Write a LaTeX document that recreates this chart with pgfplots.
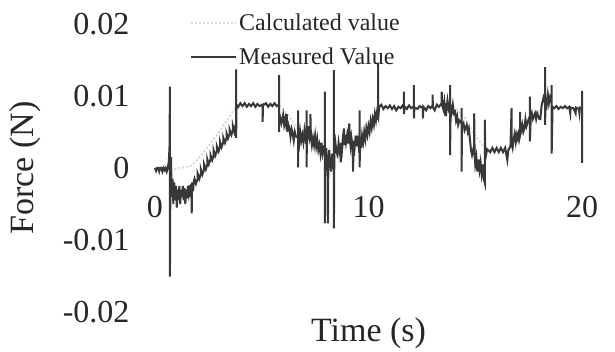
\documentclass[border=0pt]{standalone}
\usepackage{fontspec}
\setmainfont{Liberation Serif}
\usepackage{pgfplots}
\pgfplotsset{compat=1.18}
\begin{document}
\begin{tikzpicture}
\begin{axis}[
  scale only axis,
  width=427pt, height=288pt,
  xmin=0, xmax=20, ymin=-0.02, ymax=0.02,
  axis x line=middle, axis y line=left,
  axis line style={draw=none},
  hide obscured x ticks=false, hide obscured y ticks=false,
  major tick length=0pt,
  scaled y ticks=false, scaled x ticks=false,
  xtick={0,10,20}, ytick={-0.02,-0.01,0,0.01,0.02},
  yticklabels={-0.02,-0.01,0,0.01,0.02},
  /pgf/number format/assume math mode=true,
  tick label style={font=\fontsize{32}{38}\selectfont, text=black!85},
  x tick label style={anchor=center, yshift=-39pt},
  y tick label style={anchor=east, xshift=-22pt},
  xlabel={Time (s)}, ylabel={Force (N)},
  label style={font=\fontsize{34}{40}\selectfont, text=black!85},
  xlabel style={at={(axis description cs:0.5,-0.073)}, anchor=center},
  ylabel style={at={(axis description cs:-0.304,0.5)}, anchor=center, rotate=0},
  legend style={draw=none, fill=none, at={(axis description cs:0.082,1.042)}, anchor=north west,
    font=\fontsize{24}{28}\selectfont, text=black!85, row sep=12pt, inner sep=0pt},
  legend cell align=left,
  legend image code/.code={\draw[#1] (0pt,0pt) -- (45pt,0pt);},
  clip=false,
]
\addplot[gray!30, line width=2pt, dotted] coordinates {
(0,0)(0.6,0)(0.8,-0.0003)(1.2,0)(1.7,0.0003)(2.0,0.0012)(2.5,0.003)(3.0,0.005)(3.5,0.0072)(3.8,0.0085)(4.0,0.0088)(5.8,0.0088)(6.2,0.0075)(6.8,0.005)(7.5,0.003)(8.2,0.0012)(8.5,0.0015)(9.0,0.0035)(9.6,0.005)(10.2,0.007)(10.6,0.0085)(14.0,0.0085)(14.5,0.007)(15.0,0.0045)(15.5,0.0026)(16.5,0.0026)(17.0,0.005)(17.6,0.007)(18.3,0.0085)(20,0.0083)
};
\addlegendentry{Calculated value}
\addplot[black!78, line width=2pt, line join=miter] coordinates {
(0,0)(0.05,-0.0004)(0.1,0)(0.15,0)(0.2,-0.0005)(0.25,0)(0.3,0)(0.35,-0.0005)(0.4,0)(0.45,-0.0003)(0.5,0)(0.55,-0.0005)(0.6,0)(0.65,0.001)
(0.68,0.003)(0.70,0.0113)(0.70,-0.0151)(0.72,-0.002)
(0.75,0.0015)(0.78,-0.004)(0.82,-0.0015)(0.86,-0.005)(0.9,-0.002)(0.94,-0.0045)(0.98,-0.0025)(1.02,-0.0055)(1.06,-0.003)(1.1,-0.0045)(1.14,-0.0025)(1.18,-0.005)(1.22,-0.003)(1.26,-0.004)(1.3,-0.0025)(1.34,-0.0045)(1.38,-0.0028)(1.42,-0.005)(1.46,-0.003)(1.5,-0.0042)(1.54,-0.0025)(1.58,-0.0035)(1.62,-0.0024)(1.66,-0.004)(1.70,-0.0022)(1.72,-0.0063)(1.74,-0.002)(1.78,-0.0032)(1.82,-0.0018)
(1.85,-0.0015)(1.92,-0.0022)(2.0,-0.0015)(2.0,-0.0008)(2.08,-0.0015)(2.15,-0.0008)(2.15,-0.0002)(2.22,-0.0009)(2.3,-0.0002)(2.3,0.0005)(2.38,-0.0002)(2.45,0.0005)(2.45,0.0012)(2.52,0.0005)(2.6,0.0012)(2.6,0.0018)(2.68,0.0011)(2.75,0.0018)(2.75,0.0024)(2.82,0.0017)(2.9,0.0024)(2.9,0.003)(2.98,0.0023)(3.05,0.003)(3.05,0.0036)(3.12,0.0029)(3.2,0.0036)(3.2,0.0042)(3.28,0.0035)(3.35,0.0042)(3.35,0.0048)(3.42,0.0041)(3.5,0.0048)(3.5,0.0053)(3.58,0.0046)(3.65,0.0053)(3.65,0.0058)(3.72,0.005)(3.78,0.006)
(3.8,0.006)(3.8,0.0137)(3.8,0.0042)(3.82,0.0088)
(3.9,0.0085)(4.0,0.009)(4.1,0.0086)(4.2,0.009)(4.3,0.0085)(4.4,0.0089)(4.5,0.0086)(4.6,0.009)(4.7,0.0085)(4.8,0.0089)(4.9,0.0086)(5.04,0.0088)(5.04,0.0064)(5.06,0.0087)(5.2,0.009)(5.3,0.0085)(5.4,0.0089)(5.5,0.0086)(5.6,0.009)(5.7,0.0086)(5.81,0.0088)(5.81,0.0129)(5.81,0.005)(5.83,0.0075)
(5.85,0.0072)(5.92,0.0062)(5.95,0.0066)(6.0,0.0074)(6.05,0.006)(6.1,0.0068)(6.17,0.0053)(6.17,0.0075)(6.2,0.005)(6.25,0.006)(6.3,0.0055)(6.35,0.0043)(6.4,0.0054)(6.45,0.0048)(6.5,0.0038)(6.55,0.005)(6.6,0.0044)(6.7,0.0042)(6.7,0.008)(6.7,0.0001)(6.72,0.0045)(6.76,0.0036)(6.8,0.005)(6.85,0.0038)(6.9,0.0046)(6.95,0.0036)(7.0,0.0052)(7.05,0.004)(7.1,0.0045)(7.1,0.008)(7.1,0.0001)(7.12,0.005)(7.16,0.004)(7.2,0.0058)(7.24,0.0042)(7.28,0.0048)(7.28,0.0075)(7.3,0.0045)(7.35,0.0032)(7.4,0.0042)(7.45,0.0032)(7.5,0.0045)(7.55,0.003)(7.6,0.004)(7.65,0.0025)(7.7,0.0032)(7.75,0.002)(7.8,0.0035)(7.85,0.002)(7.9,0.0028)(7.96,0.0025)(7.96,0.0106)(7.96,-0.0077)(7.98,0.0015)(8.02,0.0028)(8.05,0.0005)(8.1,0.0012)(8.1,-0.0077)(8.12,0.001)(8.16,0.0025)(8.2,0.0008)(8.25,-0.0005)(8.3,0.002)(8.34,0.0005)(8.38,0.0008)(8.38,0.0136)(8.38,-0.0084)(8.4,0.002)
(8.45,0.0035)(8.5,0.0022)(8.55,0.0018)(8.6,0.0035)(8.65,0.0024)(8.68,0.003)(8.7,0.0008)(8.72,0.0035)(8.76,0.0026)(8.8,0.0042)(8.85,0.0055)(8.88,0.0032)(8.92,0.0046)(8.95,0.0036)(9.0,0.0046)(9.05,0.0034)(9.1,0.0062)(9.12,0.004)(9.16,0.003)(9.2,0.0042)(9.25,0.003)(9.28,-0.0005)(9.3,0.0038)(9.35,0.0028)(9.4,0.0045)(9.45,0.003)(9.5,0.0045)(9.54,0.003)(9.58,0.0035)(9.58,0.008)(9.58,0.0001)(9.62,0.0038)(9.66,0.0028)(9.7,0.0045)(9.75,0.0036)(9.8,0.005)(9.85,0.004)(9.9,0.0055)(9.95,0.0046)(10.0,0.0058)(10.05,0.005)(10.1,0.0065)(10.15,0.0056)(10.2,0.0068)(10.25,0.006)(10.3,0.0075)(10.35,0.0066)(10.4,0.0078)(10.45,0.0072)(10.45,0.0146)(10.45,0.0067)(10.5,0.0085)
(10.6,0.0088)(10.7,0.0082)(10.8,0.0086)(10.9,0.0083)(11.0,0.0087)(11.1,0.0082)(11.2,0.0086)(11.3,0.008)(11.4,0.0085)(11.5,0.0083)(11.6,0.0087)(11.66,0.0082)(11.66,0.0106)(11.66,0.0075)(11.7,0.0085)(11.8,0.0082)(11.9,0.0087)(12.0,0.0083)(12.13,0.0086)(12.13,0.0115)(12.13,0.0069)(12.15,0.0084)(12.3,0.0082)(12.4,0.0086)(12.55,0.0083)(12.55,0.0069)(12.57,0.0085)(12.7,0.008)(12.8,0.0086)(12.9,0.0083)(13.0,0.0087)(13.0,0.0102)(13.02,0.0084)(13.1,0.008)(13.2,0.0088)(13.3,0.0085)(13.43,0.009)(13.43,0.0106)(13.45,0.0088)(13.5,0.0082)(13.55,0.0092)(13.6,0.0072)(13.62,0.009)(13.66,0.0082)(13.7,0.0094)(13.76,0.0082)(13.82,0.0088)(13.82,0.0115)(13.82,0.0018)(13.85,0.0085)(13.9,0.0078)(13.95,0.0088)(14.0,0.0076)(14.05,0.0078)(14.1,0.0066)(14.15,0.0072)(14.2,0.006)(14.25,0.0066)(14.36,0.0062)(14.36,0.0083)(14.36,-0.0005)(14.38,0.0058)
(14.45,0.0062)(14.5,0.0052)(14.6,0.006)(14.65,0.005)(14.7,0.0055)(14.75,0.004)(14.8,0.0025)(14.85,0.0018)(14.9,0.0025)(14.95,0.002)(14.95,0.0076)(14.97,0.0018)(15.0,0.0005)(15.05,0.0015)(15.1,-0.0005)(15.15,0.0012)(15.2,-0.0003)(15.25,0.0008)(15.3,-0.0008)(15.35,0.0005)(15.4,-0.0015)(15.45,-0.0021)(15.45,0.0067)(15.47,0.0012)(15.55,0.0026)
(15.7,0.0022)(15.8,0.0028)(15.9,0.0022)(16.0,0.0028)(16.1,0.0022)(16.2,0.0028)(16.3,0.0022)(16.4,0.0028)(16.5,0.0011)(16.55,0.0025)
(16.65,0.003)(16.7,0.0083)(16.7,0.0035)(16.75,0.0028)(16.8,0.004)(16.85,0.0048)(16.9,0.0036)(16.95,0.0046)(17.0,0.004)(17.05,0.0052)(17.1,0.0055)(17.1,0.0078)(17.1,0.0045)(17.15,0.0052)(17.2,0.006)(17.25,0.005)(17.3,0.0055)(17.35,0.0068)(17.4,0.0058)(17.45,0.0063)(17.5,0.0068)(17.56,0.0072)(17.56,0.0099)(17.56,0.0037)(17.6,0.007)(17.65,0.0076)(17.7,0.0068)(17.8,0.0076)(17.85,0.0068)(17.9,0.0076)(18.0,0.0068)(18.05,0.0068)(18.1,0.0085)(18.15,0.0092)(18.2,0.0098)(18.27,0.009)(18.27,0.014)(18.27,0.006)(18.3,0.0095)(18.35,0.0088)(18.4,0.0102)(18.45,0.009)(18.5,0.0098)(18.58,0.009)(18.58,0.0115)(18.58,0.002)(18.62,0.0085)
(18.7,0.0083)(18.8,0.0086)(18.9,0.0082)(19.0,0.0085)(19.1,0.0083)(19.2,0.0086)(19.3,0.0083)(19.4,0.0085)(19.45,0.0076)(19.47,0.0084)(19.6,0.0083)(19.7,0.0076)(19.72,0.0084)(19.85,0.0082)(19.88,0.0076)(19.9,0.0084)(20.0,0.0083)(20.0,0.0107)(20.0,0.0007)
};
\addlegendentry{Measured Value}
\end{axis}
\pgfresetboundingbox
\path[use as bounding box] (-155pt,-40pt) rectangle (460pt,312pt);
\end{tikzpicture}
\end{document}
